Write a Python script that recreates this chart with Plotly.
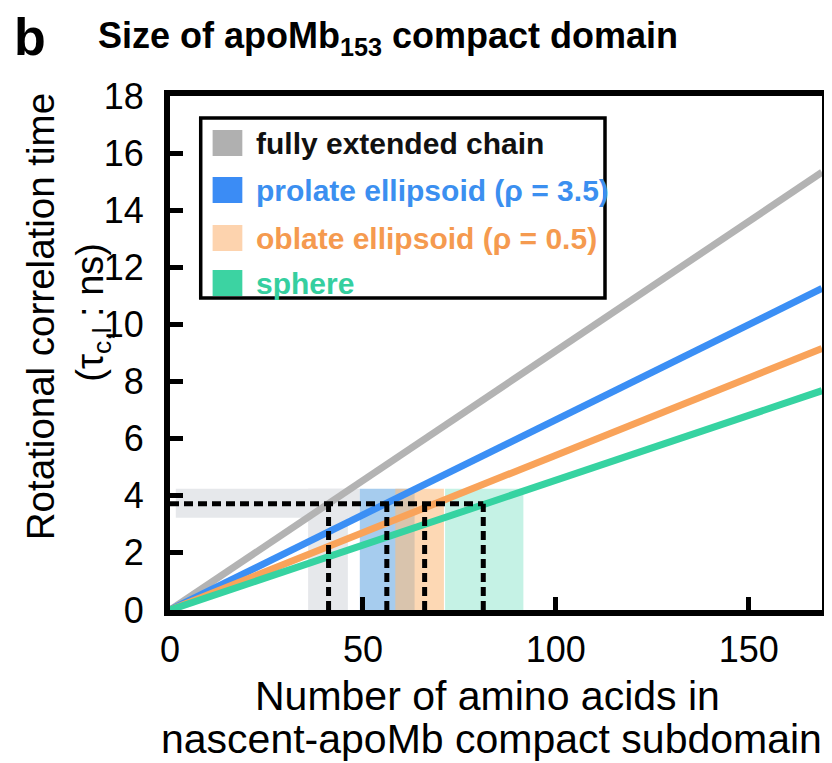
import plotly.graph_objects as go

# ---- data ----
x_end = [0, 169]
series_names = ["fully extended chain", "prolate ellipsoid (ρ = 3.5)", "oblate ellipsoid (ρ = 0.5)", "sphere"]
tau_at_end = [15.33, 11.26, 9.16, 7.68]          # tau (ns) at x = 169 for each model (lines start at 0)
line_colors = ["#b3b3b3", "#3b8ff5", "#f9a35a", "#36d3a1"]
swatch_colors = ["#b0b0b0", "#3b8cf5", "#fdd3ae", "#3cd3a2"]
text_colors = ["#111111", "#3b8ff0", "#f59a4f", "#35cf9f"]

tau_measured = 3.72
tau_band = [3.23, 4.25]
size_estimates = [41.1, 56.2, 66.0, 81.2]        # amino acids where each line crosses measured tau
size_ranges = [(35.8, 46.1), (49.2, 63.4), (58.4, 71.0), (71.3, 91.6)]
range_fills = ["#e6e8eb", "rgba(150,195,235,0.85)", "rgba(252,190,130,0.6)", "rgba(150,232,207,0.55)"]
gray_band_x = [1.5, 49.2]

x_ticks = [0, 50, 100, 150]
y_ticks = list(range(0, 19, 2))

# page body has an 8px margin: lay the figure out in reference pixel space shifted by OFF
OFF = 8
W, H = 832 - OFF, 763 - OFF
L, T = 170 - OFF, 96 - OFF
R = W - (828 - OFF)
B = H - (610 - OFF)
PW, PH = W - L - R, H - T - B


def px(x):
    return (x - OFF - L) / PW


def py(y):
    return (H - B - (y - OFF)) / PH


fig = go.Figure()

# model lines
for name, yv, c in zip(series_names, tau_at_end, line_colors):
    fig.add_trace(go.Scatter(x=x_end, y=[0, yv], mode="lines", name=name,
                             line=dict(color=c, width=7), showlegend=False,
                             hoverinfo="skip"))

# dashed guide lines
dx, dy = [0, size_estimates[-1], None], [tau_measured, tau_measured, None]
for s in size_estimates:
    dx += [s, s, None]
    dy += [0, tau_measured, None]
fig.add_trace(go.Scatter(x=dx, y=dy, mode="lines", showlegend=False, hoverinfo="skip",
                         line=dict(color="black", width=5, dash="9px,5px")))

shapes = []
# gray horizontal tau band
shapes.append(dict(type="rect", xref="x", yref="y", x0=gray_band_x[0], x1=gray_band_x[1],
                   y0=tau_band[0], y1=tau_band[1], fillcolor=range_fills[0],
                   line=dict(width=0), layer="below"))
for (a, b), f in zip(size_ranges, range_fills):
    shapes.append(dict(type="rect", xref="x", yref="y", x0=a, x1=b, y0=0, y1=tau_band[1],
                       fillcolor=f, line=dict(width=0), layer="below"))

# manual legend
shapes.append(dict(type="rect", xref="paper", yref="paper", x0=px(201), x1=px(609),
                   y0=py(298), y1=py(118), line=dict(color="black", width=3.5),
                   fillcolor="white", layer="above"))
rows = [143, 190, 238, 283]
annotations = []
for r, sc, tc, name in zip(rows, swatch_colors, text_colors, series_names):
    shapes.append(dict(type="rect", xref="paper", yref="paper", x0=px(213), x1=px(243),
                       y0=py(r + 13), y1=py(r - 13), fillcolor=sc, line=dict(width=0),
                       layer="above"))
    annotations.append(dict(xref="paper", yref="paper", x=px(255), y=py(r), xanchor="left",
                            yanchor="middle", text=f"<b>{name}</b>", showarrow=False,
                            font=dict(size=30, color=tc)))

# titles
annotations.append(dict(xref="paper", yref="paper", x=px(11), y=py(37), xanchor="left",
                        yanchor="middle", text="<b>b</b>", showarrow=False,
                        font=dict(size=52, color="black")))
annotations.append(dict(xref="paper", yref="paper", x=px(95), y=py(38), xanchor="left",
                        yanchor="middle", text="<b>Size of apoMb<sub>153</sub> compact domain</b>",
                        showarrow=False, font=dict(size=36, color="black")))
# axis titles
annotations.append(dict(xref="paper", yref="paper", x=px(490), y=py(696), xanchor="center",
                        yanchor="middle", text="Number of amino acids in", showarrow=False,
                        font=dict(size=41, color="black")))
annotations.append(dict(xref="paper", yref="paper", x=px(494), y=py(739), xanchor="center",
                        yanchor="middle", text="nascent-apoMb compact subdomain", showarrow=False,
                        font=dict(size=41, color="black")))
annotations.append(dict(xref="paper", yref="paper", x=px(39), y=py(317), xanchor="center",
                        yanchor="middle", text="Rotational correlation time", textangle=-90,
                        showarrow=False, font=dict(size=38.5, color="black")))
annotations.append(dict(xref="paper", yref="paper", x=px(92), y=py(312), xanchor="center",
                        yanchor="middle",
                        text="(τ<sub>c,l</sub> : ns)",
                        textangle=-90, showarrow=False, font=dict(size=38, color="black")))

fig.update_layout(
    width=W, height=H,
    margin=dict(l=L, r=R, t=T, b=B),
    paper_bgcolor="white", plot_bgcolor="white",
    font=dict(family="Liberation Sans, Arial, sans-serif", color="black"),
    shapes=shapes, annotations=annotations,
    xaxis=dict(range=[0, 169], tickvals=x_ticks, showgrid=False, zeroline=False,
               showline=True, linewidth=6, linecolor="black", mirror=True,
               ticks="inside", ticklen=13, tickwidth=5, tickcolor="black",
               tickfont=dict(size=36), ticklabelstandoff=3),
    yaxis=dict(range=[0, 18], tickvals=y_ticks, showgrid=False, zeroline=False,
               showline=True, linewidth=6, linecolor="black", mirror=True,
               ticks="inside", ticklen=13, tickwidth=5, tickcolor="black",
               tickfont=dict(size=36), ticklabelstandoff=13),
)

fig.write_html("out.html")
